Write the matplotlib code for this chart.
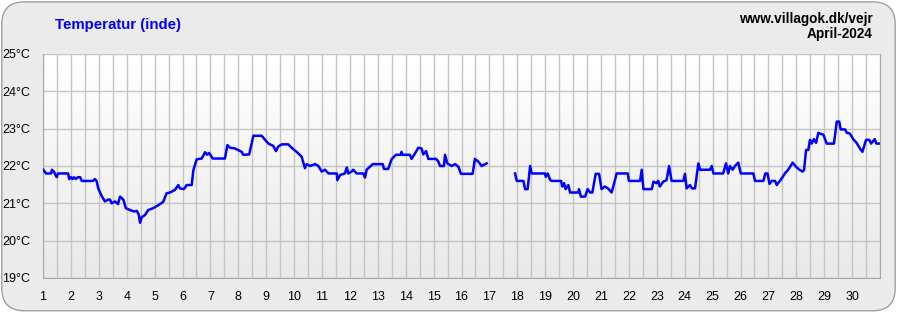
import numpy as np
import matplotlib
matplotlib.use("Agg")
import matplotlib.pyplot as plt
from matplotlib.patches import FancyBboxPatch

plt.rcParams['font.family'] = ['Liberation Sans', 'DejaVu Sans']

# indoor temperature, april 2024 (day of month, degC)
dag1 = [1.01, 1.11, 1.29, 1.32, 1.39, 1.49, 1.54, 1.90, 1.94, 2.00, 2.06, 2.11, 2.18, 2.25,
        2.33, 2.39, 2.79, 2.86, 2.92, 2.98, 3.10, 3.22, 3.33, 3.40, 3.46, 3.58, 3.69, 3.76,
        3.88, 3.97, 4.12, 4.27, 4.36, 4.43, 4.48, 4.54, 4.66, 4.77, 4.95, 5.13, 5.31, 5.43,
        5.55, 5.73, 5.85, 5.91, 6.05, 6.15, 6.33, 6.39, 6.51, 6.69, 6.81, 6.88, 6.95, 6.99,
        7.08, 7.52, 7.61, 7.70, 7.88, 8.12, 8.18, 8.39, 8.54, 8.84, 8.96, 9.08, 9.25, 9.35,
        9.43, 9.56, 9.79, 9.91, 10.09, 10.27, 10.39, 10.45, 10.57, 10.75, 10.87, 10.99,
        11.11, 11.23, 11.53, 11.55, 11.65, 11.82, 11.89, 11.94, 12.06, 12.12, 12.24, 12.48,
        12.54, 12.60, 12.66, 12.82, 13.18, 13.22, 13.37, 13.41, 13.50, 13.65, 13.82, 13.85,
        13.89, 14.15, 14.21, 14.37, 14.45, 14.57, 14.63, 14.73, 14.81, 15.09, 15.17, 15.23,
        15.37, 15.41, 15.49, 15.65, 15.77, 15.89, 15.98, 16.40, 16.48, 16.60, 16.72, 16.90]
temp1 = [21.9, 21.8, 21.8, 21.9, 21.85, 21.7, 21.8, 21.8, 21.65, 21.7, 21.65, 21.7, 21.65, 21.7,
         21.7, 21.6, 21.6, 21.65, 21.6, 21.4, 21.2, 21.05, 21.1, 21.1, 21.0, 21.05, 20.98, 21.18,
         21.1, 20.87, 20.82, 20.78, 20.8, 20.7, 20.48, 20.63, 20.69, 20.82, 20.87, 20.95, 21.04, 21.27,
         21.29, 21.36, 21.49, 21.4, 21.38, 21.49, 21.49, 21.89, 22.18, 22.2, 22.37, 22.3, 22.35, 22.31,
         22.2, 22.2, 22.56, 22.49, 22.47, 22.38, 22.3, 22.31, 22.81, 22.81, 22.7, 22.6, 22.54, 22.4,
         22.52, 22.58, 22.58, 22.49, 22.38, 22.25, 21.94, 22.05, 22.0, 22.05, 22.0, 21.85,
         21.9, 21.8, 21.8, 21.62, 21.76, 21.8, 21.96, 21.8, 21.85, 21.9, 21.8, 21.8,
         21.69, 21.9, 21.94, 22.05, 22.05, 21.92, 21.92, 22.0, 22.19, 22.3, 22.3, 22.38,
         22.3, 22.3, 22.19, 22.38, 22.49, 22.47, 22.31, 22.4, 22.19, 22.19, 22.12, 22.0,
         22.0, 22.3, 22.07, 22.0, 22.05, 21.98, 21.79, 21.79, 22.19, 22.12, 22.0, 22.07]

dag2 = [17.92, 17.98, 18.22, 18.28, 18.37, 18.46, 18.52, 18.99, 19.02, 19.09, 19.17, 19.23,
        19.57, 19.61, 19.68, 19.73, 19.83, 19.89, 20.19, 20.21, 20.28, 20.43, 20.52, 20.61,
        20.69, 20.81, 20.93, 21.02, 21.14, 21.25, 21.38, 21.50, 21.56, 21.96, 22.00, 22.40,
        22.46, 22.52, 22.82, 22.88, 22.99, 23.05, 23.11, 23.23, 23.35, 23.44, 23.53, 23.95,
        24.01, 24.07, 24.19, 24.26, 24.37, 24.49, 24.55, 24.91, 24.97, 25.03, 25.38, 25.48,
        25.56, 25.62, 25.72, 25.80, 25.92, 26.01, 26.46, 26.52, 26.82, 26.89, 26.97, 27.04,
        27.12, 27.24, 27.30, 27.39, 27.48, 27.59, 27.71, 27.87, 27.99, 28.11, 28.23, 28.28,
        28.35, 28.43, 28.49, 28.55, 28.63, 28.71, 28.79, 28.87, 28.97, 29.09, 29.35, 29.45,
        29.54, 29.59, 29.75, 29.81, 29.92, 30.04, 30.16, 30.28, 30.37, 30.50, 30.62, 30.68,
        30.81, 30.87, 31.0]
temp2 = [21.8, 21.6, 21.6, 21.38, 21.38, 22.0, 21.8, 21.8, 21.71, 21.8, 21.64, 21.6,
         21.6, 21.45, 21.54, 21.38, 21.49, 21.29, 21.29, 21.38, 21.18, 21.18, 21.38, 21.29,
         21.29, 21.79, 21.79, 21.38, 21.45, 21.4, 21.29, 21.62, 21.8, 21.8, 21.6, 21.6,
         21.9, 21.38, 21.38, 21.58, 21.54, 21.6, 21.45, 21.58, 21.62, 22.0, 21.6, 21.6,
         21.79, 21.4, 21.49, 21.4, 21.4, 22.07, 21.9, 21.9, 22.0, 21.8, 21.8, 22.07,
         21.8, 22.0, 21.9, 22.0, 22.09, 21.8, 21.8, 21.6, 21.6, 21.8, 21.8, 21.52,
         21.6, 21.6, 21.49, 21.58, 21.67, 21.8, 21.9, 22.09, 21.98, 21.9, 21.85, 21.9,
         22.43, 22.43, 22.7, 22.6, 22.72, 22.62, 22.89, 22.86, 22.84, 22.6, 22.6, 23.19,
         23.19, 22.98, 22.98, 22.89, 22.87, 22.72, 22.62, 22.47, 22.38, 22.7, 22.7, 22.6,
         22.72, 22.6, 22.6]

yticks = [19, 20, 21, 22, 23, 24, 25]
ylabels = [str(t) + "°C" for t in yticks]
xticks = list(range(1, 31))

fig = plt.figure(figsize=(8.97, 3.12), dpi=100)
fig.patch.set_facecolor('white')
bg = FancyBboxPatch((0.002, 0.004), 0.996, 0.99, boxstyle="round,pad=0,rounding_size=0.025",
                    transform=fig.transFigure, facecolor='#ebebeb', edgecolor='#a0a0a0',
                    linewidth=1.0, mutation_aspect=897/312., zorder=-10)
fig.patches.append(bg)

ax = fig.add_axes([43/897., 34/312., 837/897., 224/312.])
ax.set_zorder(2)
# plot area: white to light gray gradient
grad = np.linspace(1.0, 0.91, 100).reshape(-1, 1)
ax.imshow(grad, cmap='gray', vmin=0, vmax=1, aspect='auto',
          extent=[1, 31, 19, 25], origin='upper', zorder=0)

for d in np.arange(1, 31.01, 0.5):
    ax.axvline(d, color='#c4c4c4', lw=1.0, zorder=1)
for t in yticks:
    ax.axhline(t, color='#c4c4c4', lw=1.0, zorder=1)

ax.plot(dag1, temp1, color='#0000ff', lw=1.8, zorder=3)
ax.plot(dag2, temp2, color='#0000ff', lw=1.8, zorder=3)

ax.set_xlim(1, 31)
ax.set_ylim(19, 25)
ax.set_xticks(xticks)
ax.set_xticklabels([str(d) for d in xticks], fontsize=9)
ax.set_yticks(yticks)
ax.set_yticklabels(ylabels, fontsize=9, ha='left')
ax.tick_params(axis='x', length=0, pad=9)
ax.tick_params(axis='y', length=0, pad=29.5)
for s in ax.spines.values():
    s.set_color('#a8a8a8')
ax.spines['top'].set_visible(False)

fig.text(55/897., 1 - 25/312., "Temperatur (inde)", color='#0000ff', fontsize=10.8,
         fontweight='bold', va='center', ha='left')
fig.text(873/897., 1 - 19/312., "www.villagok.dk/vejr", fontsize=9.8, fontweight='bold',
         va='center', ha='right')
fig.text(873/897., 1 - 34/312., "April-2024", fontsize=9.8, fontweight='bold',
         va='center', ha='right')

plt.savefig("out.png", dpi=100)
plt.close()
